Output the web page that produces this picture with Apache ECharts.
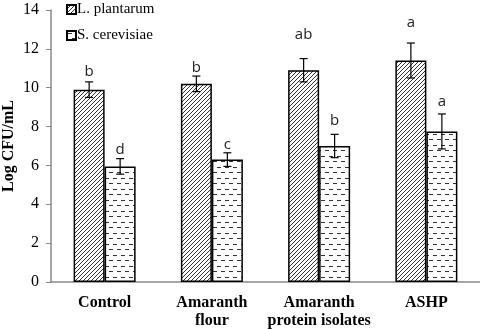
<!DOCTYPE html>
<html>
<head>
<meta charset="utf-8">
<script src="https://cdn.jsdelivr.net/npm/echarts@6/dist/echarts.min.js"></script>
<style>html,body{margin:0;padding:0;background:#fff}#c{width:480px;height:329px}</style>
</head>
<body>
<div id="c"></div>
<script>
var categories = ['Control', 'Amaranth\nflour', 'Amaranth\nprotein isolates', 'ASHP'];
var seriesNames = ['L. plantarum', 'S. cerevisiae'];
var lpMean = [9.9, 10.2, 10.9, 11.4];
var lpErr = [0.4, 0.4, 0.6, 0.9];
var scMean = [5.95, 6.3, 7.0, 7.75];
var scErr = [0.4, 0.35, 0.6, 0.9];
var lpLetters = ['b', 'b', 'ab', 'a'];
var lpLetterY = [10.8, 11.05, 12.75, 13.35];
var scLetters = ['d', 'c', 'b', 'a'];
var scLetterY = [6.8, 7.05, 8.3, 9.3];
var yTicks = [0, 2, 4, 6, 8, 10, 12, 14];

function hatch() {
  var c = document.createElement('canvas');
  c.width = 4; c.height = 4;
  var g = c.getContext('2d');
  g.fillStyle = '#fff'; g.fillRect(0, 0, 4, 4);
  g.strokeStyle = '#333'; g.lineWidth = 1;
  g.beginPath();
  g.moveTo(-1, 5); g.lineTo(5, -1);
  g.moveTo(-1, 1); g.lineTo(1, -1);
  g.moveTo(3, 5); g.lineTo(5, 3);
  g.stroke();
  return c;
}
function dashes() {
  var c = document.createElement('canvas');
  c.width = 8; c.height = 11;
  var g = c.getContext('2d');
  g.fillStyle = '#fff'; g.fillRect(0, 0, 8, 11);
  g.fillStyle = '#333';
  g.fillRect(1, 2, 4, 1);
  g.fillRect(5, 7, 3, 1);
  g.fillRect(0, 7, 1, 1);
  return c;
}
var lpColor = { image: hatch(), repeat: 'repeat' };
var scColor = { image: dashes(), repeat: 'repeat' };
var BW = 31;

function errSeries(mean, err, letters, letterY, offset) {
  var data = mean.map(function (m, i) { return [i, m, err[i], letterY[i]]; });
  return {
    type: 'custom',
    z: 5,
    data: data,
    renderItem: function (params, api) {
      var i = api.value(0);
      var m = api.value(1), e = api.value(2), ly = api.value(3);
      var top = api.coord([i, m + e]);
      var bot = api.coord([i, m - e]);
      var lp = api.coord([i, ly]);
      var x = top[0] + offset;
      var cap = 4;
      return {
        type: 'group',
        children: [
          { type: 'line', shape: { x1: x, y1: top[1], x2: x, y2: bot[1] }, style: { stroke: '#000', lineWidth: 1.2 } },
          { type: 'line', shape: { x1: x - cap, y1: top[1], x2: x + cap, y2: top[1] }, style: { stroke: '#000', lineWidth: 1.2 } },
          { type: 'line', shape: { x1: x - cap, y1: bot[1], x2: x + cap, y2: bot[1] }, style: { stroke: '#000', lineWidth: 1.2 } },
          { type: 'text', style: { text: letters[i], x: x, y: lp[1], align: 'center', verticalAlign: 'middle', fill: '#222', font: '15px "Open Sans"' } }
        ]
      };
    }
  };
}

var chart = echarts.init(document.getElementById('c'));
chart.setOption({
  animation: false,
  backgroundColor: '#fff',
  grid: { left: 51, right: 0, top: 10, bottom: 47, outerBoundsMode: 'none', containLabel: false },
  legend: {
    data: seriesNames,
    orient: 'vertical',
    left: 66, top: 1, padding: 0,
    itemWidth: 9, itemHeight: 9, itemGap: 9,
    icon: 'rect',
    textStyle: { fontFamily: 'Liberation Serif', fontSize: 15, lineHeight: 17, color: '#000', padding: [0, 0, 0, -4] }
  },
  xAxis: {
    type: 'category',
    data: categories,
    axisLine: { lineStyle: { color: '#888', width: 1.5 } },
    axisTick: { show: false },
    axisLabel: { color: '#000', fontFamily: 'Liberation Serif', fontWeight: 'bold', fontSize: 16, lineHeight: 18, margin: 12, interval: 0 }
  },
  yAxis: {
    type: 'value',
    min: 0, max: 14, interval: 2,
    name: 'Log CFU/mL',
    nameLocation: 'middle',
    nameGap: 34,
    nameMoveOverlap: false,
    nameTextStyle: { color: '#000', fontFamily: 'Liberation Serif', fontWeight: 'bold', fontSize: 16 },
    axisLine: { show: true, lineStyle: { color: '#888', width: 1.5 } },
    axisTick: { show: true, length: 5, lineStyle: { color: '#888' } },
    splitLine: { show: false },
    axisLabel: { color: '#000', fontFamily: 'Liberation Serif', fontSize: 16, margin: 12,
      formatter: function (v) { return yTicks.indexOf(v) >= 0 ? String(v) : ''; } }
  },
  series: [
    { name: seriesNames[0], type: 'bar', data: lpMean, barWidth: BW, barGap: '0%',
      itemStyle: { color: lpColor, borderColor: '#000', borderWidth: 1.5 } },
    { name: seriesNames[1], type: 'bar', data: scMean, barWidth: BW, barGap: '0%',
      itemStyle: { color: scColor, borderColor: '#000', borderWidth: 1.5 } },
    errSeries(lpMean, lpErr, lpLetters, lpLetterY, -BW / 2),
    errSeries(scMean, scErr, scLetters, scLetterY, BW / 2)
  ]
});
</script>
</body>
</html>
